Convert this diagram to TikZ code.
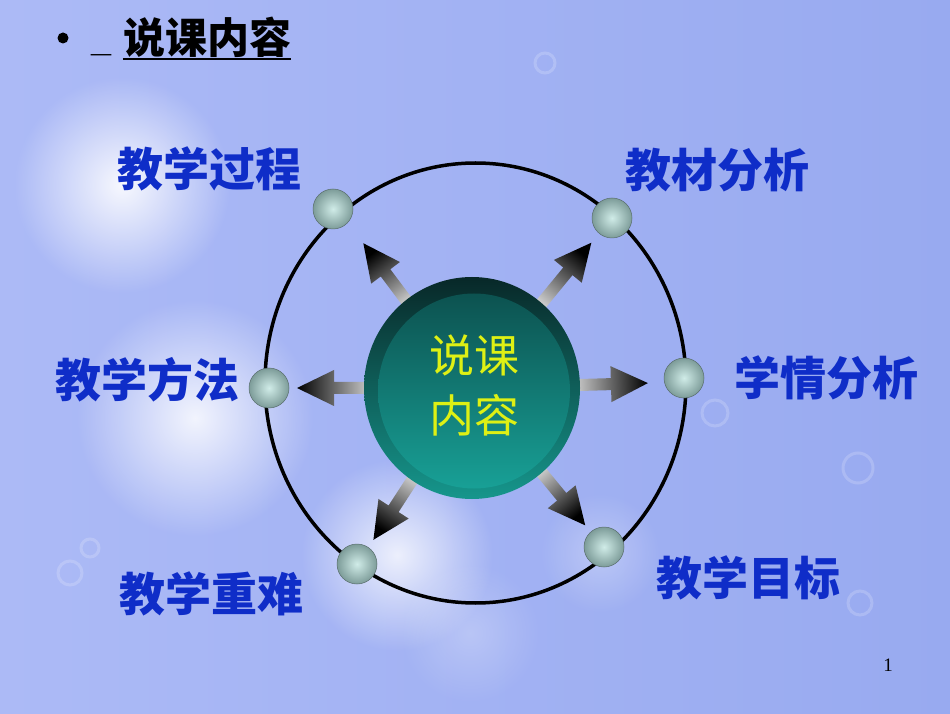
\documentclass[tikz,border=0pt]{standalone}
\usepackage{fontspec}
\setmainfont{Liberation Sans}
\newfontfamily\cjk{Noto Sans CJK SC}
\newfontfamily\serifnum{Liberation Serif}
\usetikzlibrary{fadings}
\tikzfading[name=fuzzy, inner color=transparent!0, outer color=transparent!100]
\definecolor{bgl}{RGB}{172,186,246}
\definecolor{bgr}{RGB}{152,170,240}
\definecolor{lblue}{RGB}{15,45,200}
\definecolor{cyel}{RGB}{222,240,20}
\definecolor{ringdark}{RGB}{8,40,40}
\definecolor{ringlight}{RGB}{22,150,140}
\definecolor{discdark}{RGB}{12,82,80}
\definecolor{disclight}{RGB}{24,160,150}
\definecolor{ballin}{RGB}{208,236,232}
\definecolor{ballout}{RGB}{125,156,153}
\tikzset{
  lbl/.style={font=\cjk\bfseries\fontsize{46}{46}\selectfont, text=lblue,
    inner sep=0pt, text height=40.5pt, text depth=5.5pt},
  ball/.style={circle, minimum size=40pt, inner sep=0pt, draw=ballout!70!black,
    line width=0.5pt, inner color=ballin, outer color=ballout},
  bokeh/.style={white, path fading=fuzzy},
}
\begin{document}
\begin{tikzpicture}[x=1pt,y=1pt]
\useasboundingbox (0,0) rectangle (950,713);
% background
\shade[left color=bgl, right color=bgr] (0,0) rectangle (950,713);
\fill[bokeh, opacity=0.9] (122,528) circle (108);
\fill[bokeh, opacity=0.85] (195,295) circle (118);
\fill[bokeh, opacity=0.8] (397,158) circle (96);
\fill[bokeh, opacity=0.3] (600,160) circle (60);
\fill[bokeh, opacity=0.25] (470,80) circle (70);
\foreach \cx/\cy/\r in {715/300/13, 858/245/15, 860/110/12, 545/650/10, 70/140/12, 90/165/9} {
  \draw[white, opacity=0.18, line width=3pt] (\cx,\cy) circle (\r);
}
% title
\fill[black] (63,675) circle (5.5);
\node[font=\bfseries\fontsize{36}{36}\selectfont, anchor=base, inner sep=0pt] (us) at (102,661) {\_};
\node[font=\cjk\bfseries\fontsize{42}{42}\selectfont, inner sep=0pt, text height=37pt, text depth=5pt] (title) at (207,675) {说课内容};
\draw[line width=2pt] (title.south west |- 0,654) -- (title.south east |- 0,654);
% orbit
\draw[line width=3.5pt] (475.5,330) ellipse [x radius=210.5, y radius=220];
% arrows
\foreach \a/\d in {126.9/181, 50.6/188, 180/175, 1.6/176, -123/181, -50.5/178} {
  \pgfmathsetmacro{\sa}{\a+90}
  \begin{scope}[shift={(472,325)}, rotate=\a]
    \shade[top color=white!88!black, bottom color=black, shading angle=\sa] (95,-6) -- (\d-37,-6) -- (\d-37,-18) -- (\d,0) -- (\d-37,18) -- (\d-37,6) -- (95,6) -- cycle;
  \end{scope}
}
% central disc
\shade[shading angle=45, top color=ringdark, bottom color=ringlight] (472,325) ellipse [x radius=108, y radius=111];
\shade[top color=discdark, bottom color=disclight] (474,322) ellipse [x radius=96, y radius=97.5];
\node[font=\cjk\fontsize{45}{60}\selectfont, text=cyel, align=center, inner sep=0pt] (center) at (474,328) {说课\\内容};
% balls
\node[ball] (b1) at (333,504) {};
\node[ball] (b2) at (612,495) {};
\node[ball] (b3) at (269,325) {};
\node[ball] (b4) at (684,335) {};
\node[ball] (b5) at (357,149) {};
\node[ball] (b6) at (604,166) {};
% labels
\node[lbl] (l1) at (209,544) {教学过程};
\node[lbl] (l2) at (717,543) {教材分析};
\node[lbl] (l3) at (147,333) {教学方法};
\node[lbl] (l4) at (826,335) {学情分析};
\node[lbl] (l5) at (211,119) {教学重难};
\node[lbl] (l6) at (748,135) {教学目标};
% page number
\node[font=\serifnum\fontsize{19}{19}\selectfont, inner sep=0pt] (pg) at (888,48) {1};
\end{tikzpicture}
\end{document}
